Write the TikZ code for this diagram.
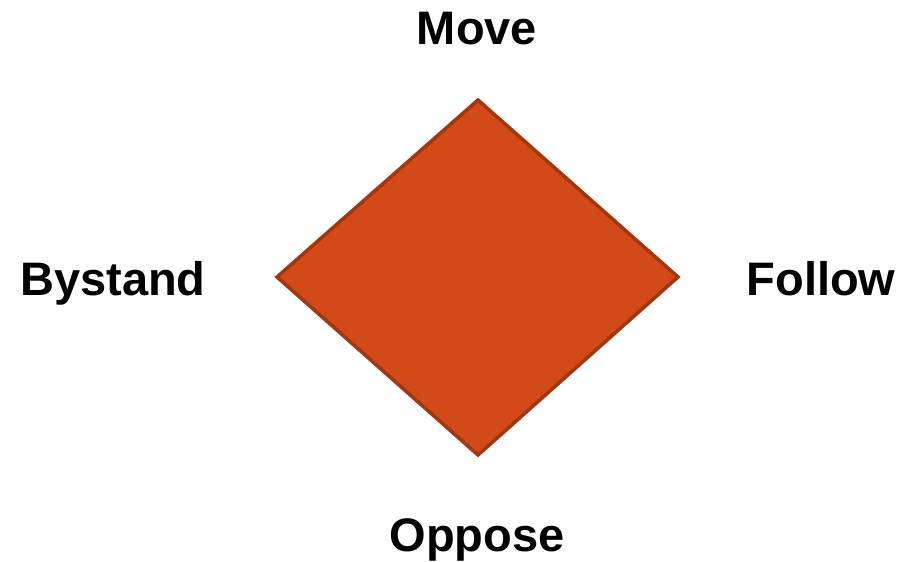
\documentclass[tikz,border=0pt]{standalone}
\usepackage{fontspec}
\setmainfont{Liberation Sans}
\usetikzlibrary{calc}

\definecolor{rhombfill}{HTML}{D14A18}
\definecolor{rhombedge}{HTML}{A2370F}

\begin{document}
\begin{tikzpicture}[x=1pt,y=-1pt]

    % canvas (pixel units, y pointing down)
    \useasboundingbox (0,0) rectangle (902,562);

    % style of the four corner words
    \tikzset{corner/.style={inner sep=0pt, anchor=base, font=\fontsize{47}{56}\selectfont\bfseries}}

    % Corners of the rhombus
    \coordinate (T) at (478,100);
    \coordinate (L) at (277,277);
    \coordinate (R) at (678,277);
    \coordinate (B) at (478,455);

    % Draw the rhombus
    \draw[line width=3.5pt, line join=miter, fill=rhombfill, draw=rhombedge] (T) -- (R) -- (B) -- (L) -- cycle;

    % Labels round it
    \node[corner] (move) at (477,44) {Move};
    \node[corner] (bystand) at (113,295) {Bystand};
    \node[corner] (follow) at (821,295) {Follow};
    \node[corner] (oppose) at (477,551) {Oppose};

\end{tikzpicture}
\end{document}
